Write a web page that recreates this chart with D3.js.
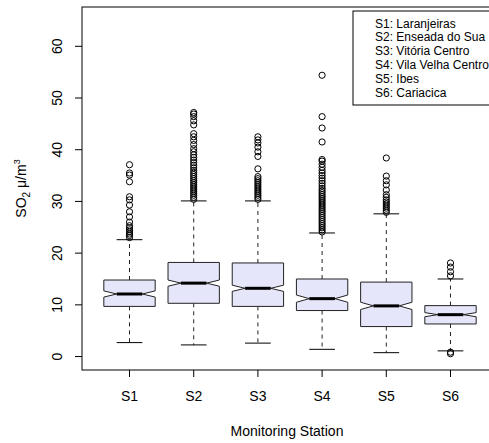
<!DOCTYPE html>
<html>
<head>
<meta charset="utf-8">
<script src="https://cdn.jsdelivr.net/npm/d3@7"></script>
<style>
  html, body { margin: 0; padding: 0; background: #fff; }
  svg { display: block; }
  text { font-family: "Liberation Sans", Arial, Helvetica, sans-serif; fill: #000; }
</style>
</head>
<body>
<svg id="chart" width="489" height="443"></svg>
<script>
// ---- data ----
const stations = ["S1", "S2", "S3", "S4", "S5", "S6"];
const legendLabels = ["S1: Laranjeiras", "S2: Enseada do Sua", "S3: Vitória Centro",
                      "S4: Vila Velha Centro", "S5: Ibes", "S6: Cariacica"];
const whiskerLow  = [2.7, 2.25, 2.6, 1.4, 0.75, 1.1];
const q1          = [9.7, 10.3, 9.7, 8.9, 5.8, 6.3];
const median      = [12.1, 14.2, 13.2, 11.2, 9.8, 8.1];
const q3          = [14.8, 18.2, 18.1, 15.0, 14.4, 9.85];
const whiskerHigh = [22.6, 30.1, 30.1, 23.9, 27.6, 15.0];
const notchLow    = [11.5, 13.6, 12.6, 10.5, 9.1, 7.7];
const notchHigh   = [12.7, 14.8, 13.8, 11.9, 10.5, 8.5];
const outliers = [
  [23.0, 23.4, 23.7, 24.1, 24.5, 24.9, 25.3, 26.0, 27.0, 28.0, 29.3, 30.3, 30.9, 33.8, 35.1, 35.5, 37.1],
  [30.4, 30.8, 31.2, 31.6, 32.0, 32.4, 32.8, 33.2, 33.6, 34.0, 34.4, 34.8, 35.2, 35.6, 36.0, 36.5,
   37.0, 37.5, 38.0, 38.5, 39.0, 39.6, 40.2, 41.0, 41.8, 42.5, 43.1, 44.8, 45.6, 46.4, 46.9, 47.2],
  [30.4, 30.8, 31.2, 31.6, 32.0, 32.4, 32.8, 33.2, 33.6, 34.0, 34.4, 34.8, 36.3, 38.7, 39.6, 40.5, 41.3, 41.9, 42.5],
  [24.1, 24.5, 24.9, 25.3, 25.7, 26.1, 26.5, 26.9, 27.3, 27.7, 28.1, 28.5, 28.9, 29.3, 29.7, 30.1,
   30.5, 30.9, 31.3, 31.7, 32.1, 32.5, 33.0, 33.5, 34.0, 34.5, 35.0, 35.5, 36.0, 36.6, 37.2, 37.8,
   38.1, 41.5, 44.2, 46.4, 54.4],
  [27.9, 28.3, 28.7, 29.1, 29.5, 29.9, 30.3, 30.8, 31.3, 32.2, 33.2, 34.0, 34.9, 38.4],
  [0.55, 0.85, 15.6, 16.4, 17.3, 18.1]
];
const yTicks = [0, 10, 20, 30, 40, 50, 60];
const xTitle = "Monitoring Station";

// ---- layout ----
const plot = { left: 82, right: 498, top: 7, bottom: 370 };
const svg = d3.select("#chart");
svg.append("rect").attr("width", 489).attr("height", 443).attr("fill", "#fff");

const x = d3.scaleLinear().domain([0.26, 6.74]).range([plot.left, plot.right]);
const y = d3.scaleLinear().domain([-2.6, 67.6]).range([plot.bottom, plot.top]);

const unit = x(2) - x(1);
const halfW = 0.4 * unit;
const stapleW = 0.5 * halfW;

const g = svg.append("g");

stations.forEach((s, i) => {
  const cx = x(i + 1);
  // whiskers (dashed)
  g.append("line").attr("x1", cx).attr("x2", cx).attr("y1", y(q3[i])).attr("y2", y(whiskerHigh[i]))
    .attr("stroke", "#222").attr("stroke-dasharray", "4,4").attr("stroke-width", 1);
  g.append("line").attr("x1", cx).attr("x2", cx).attr("y1", y(q1[i])).attr("y2", y(whiskerLow[i]))
    .attr("stroke", "#222").attr("stroke-dasharray", "4,4").attr("stroke-width", 1);
  // staples
  [whiskerHigh[i], whiskerLow[i]].forEach(v => {
    g.append("line").attr("x1", cx - stapleW).attr("x2", cx + stapleW)
      .attr("y1", y(v)).attr("y2", y(v)).attr("stroke", "#000").attr("stroke-width", 1);
  });
  // notched box
  const pts = [
    [cx - halfW, y(q1[i])], [cx + halfW, y(q1[i])], [cx + halfW, y(notchLow[i])],
    [cx + 0.5 * halfW, y(median[i])], [cx + halfW, y(notchHigh[i])], [cx + halfW, y(q3[i])],
    [cx - halfW, y(q3[i])], [cx - halfW, y(notchHigh[i])], [cx - 0.5 * halfW, y(median[i])],
    [cx - halfW, y(notchLow[i])]
  ];
  g.append("path").attr("d", d3.line()(pts) + "Z")
    .attr("fill", "#e6e6fa").attr("stroke", "#222").attr("stroke-width", 1);
  // median
  g.append("line").attr("x1", cx - 0.5 * halfW).attr("x2", cx + 0.5 * halfW)
    .attr("y1", y(median[i])).attr("y2", y(median[i])).attr("stroke", "#000").attr("stroke-width", 3);
  // outliers
  g.selectAll(null).data(outliers[i]).enter().append("circle")
    .attr("cx", cx).attr("cy", d => y(d)).attr("r", 3.1)
    .attr("fill", "none").attr("stroke", "#000").attr("stroke-width", 1);
});

// plot frame
svg.append("rect").attr("x", plot.left).attr("y", plot.top)
  .attr("width", plot.right - plot.left).attr("height", plot.bottom - plot.top)
  .attr("fill", "none").attr("stroke", "#000").attr("stroke-width", 1);

// y axis ticks and labels
yTicks.forEach(t => {
  svg.append("line").attr("x1", plot.left - 7).attr("x2", plot.left)
    .attr("y1", y(t)).attr("y2", y(t)).attr("stroke", "#000");
  svg.append("text").attr("transform", `translate(62,${y(t)}) rotate(-90)`)
    .attr("text-anchor", "middle").style("font-size", "14px").text(t);
});

// x axis ticks and labels
stations.forEach((s, i) => {
  svg.append("line").attr("x1", x(i + 1)).attr("x2", x(i + 1))
    .attr("y1", plot.bottom).attr("y2", plot.bottom + 7).attr("stroke", "#000");
  svg.append("text").attr("x", x(i + 1)).attr("y", 401)
    .attr("text-anchor", "middle").style("font-size", "14px").text(s);
});

// axis titles
svg.append("text").attr("x", (plot.left + plot.right) / 2 - 3).attr("y", 436)
  .attr("text-anchor", "middle").style("font-size", "14px").text(xTitle);

const yt = svg.append("text").attr("transform", `translate(26,${(plot.top + plot.bottom) / 2}) rotate(-90)`)
  .attr("text-anchor", "middle").style("font-size", "14px");
yt.append("tspan").text("SO");
yt.append("tspan").attr("dy", 4).style("font-size", "10px").text("2");
yt.append("tspan").attr("dy", -4).text(" μ/m");
yt.append("tspan").attr("dy", -6).style("font-size", "9px").text("3");

// legend
const leg = { left: 353, top: 11, right: 494, bottom: 105 };
svg.append("rect").attr("x", leg.left).attr("y", leg.top)
  .attr("width", leg.right - leg.left).attr("height", leg.bottom - leg.top)
  .attr("fill", "#fff").attr("stroke", "#000").attr("stroke-width", 1);
legendLabels.forEach((l, i) => {
  svg.append("text").attr("x", 375).attr("y", 27.5 + i * 13.8)
    .style("font-size", "12px").text(l);
});
</script>
</body>
</html>
